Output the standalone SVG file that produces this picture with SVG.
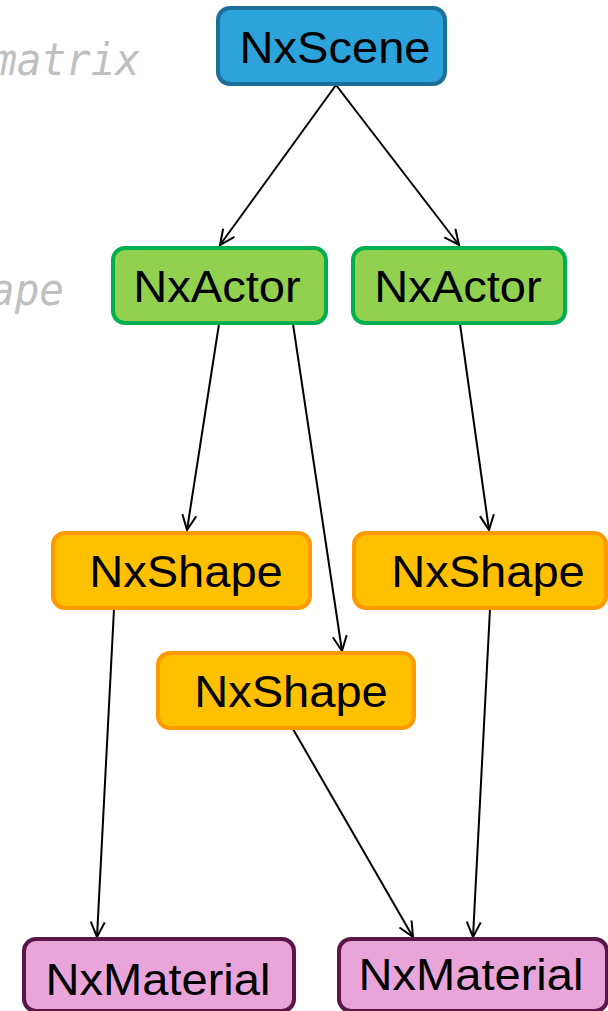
<svg xmlns="http://www.w3.org/2000/svg" width="608" height="1011" viewBox="0 0 608 1011">
  <style>
    .box { stroke-width: 4; }
    .scene { fill: #2CA3DA; stroke: #1C6F97; }
    .actor { fill: #92D050; stroke: #00B050; }
    .shape { fill: #FFC000; stroke: #FF9900; }
    .material { fill: #E9A5DA; stroke: #5A1648; }
    .label { font-family: "Liberation Sans", Arial, sans-serif; font-size: 44px; fill: #000; text-anchor: middle; }
    .code { font-family: "DejaVu Sans Mono", "Liberation Mono", monospace; font-style: italic; font-size: 44px; fill: #C0C0C0; text-anchor: end; }
    .edge { stroke: #000; stroke-width: 2; fill: none; marker-end: url(#arrow); }
  </style>
  <defs>
    <marker id="arrow" markerWidth="18" markerHeight="18" refX="16" refY="8" orient="auto" markerUnits="userSpaceOnUse">
      <path d="M1,1 L16,8 L1,15" fill="none" stroke="#000" stroke-width="2"/>
    </marker>
  </defs>

  <!-- background code fragments, slightly condensed monospace -->
  <text class="code" transform="translate(140,75) scale(0.93,1)">matrix</text>
  <text class="code" transform="translate(64,305) scale(0.93,1)">ape</text>

  <!-- connectors -->
  <g id="connectors">
    <line class="edge" x1="336" y1="85" x2="220" y2="245"/>
    <line class="edge" x1="336" y1="85" x2="459" y2="245"/>
    <line class="edge" x1="219" y1="324" x2="187" y2="530"/>
    <line class="edge" x1="293" y1="324" x2="342" y2="651"/>
    <line class="edge" x1="460" y1="324" x2="489" y2="530"/>
    <line class="edge" x1="114" y1="609" x2="97" y2="937"/>
    <line class="edge" x1="293" y1="729" x2="413" y2="937"/>
    <line class="edge" x1="490" y1="609" x2="473" y2="937"/>
  </g>

  <!-- labels are drawn slightly widened: scale(1.07,1) about their centre -->
  <g id="scene">
    <rect class="box scene" x="218" y="8" width="227" height="76" rx="12"/>
    <text class="label" transform="translate(335,63) scale(1.07,1)">NxScene</text>
  </g>
  <g id="actor1">
    <rect class="box actor" x="113" y="248" width="213" height="75" rx="12"/>
    <text class="label" transform="translate(217,302) scale(1.07,1)">NxActor</text>
  </g>
  <g id="actor2">
    <rect class="box actor" x="353" y="248" width="212" height="75" rx="12"/>
    <text class="label" transform="translate(458,302) scale(1.07,1)">NxActor</text>
  </g>
  <g id="shape1">
    <rect class="box shape" x="53" y="533" width="257" height="75" rx="12"/>
    <text class="label" transform="translate(186,587) scale(1.07,1)">NxShape</text>
  </g>
  <g id="shape2">
    <rect class="box shape" x="354" y="533" width="252" height="75" rx="12"/>
    <text class="label" transform="translate(488,587) scale(1.07,1)">NxShape</text>
  </g>
  <g id="shape3">
    <rect class="box shape" x="158" y="653" width="256" height="75" rx="12"/>
    <text class="label" transform="translate(291,707) scale(1.07,1)">NxShape</text>
  </g>
  <g id="material1">
    <rect class="box material" x="24" y="939" width="270" height="72" rx="12"/>
    <text class="label" transform="translate(158,995) scale(1.07,1)">NxMaterial</text>
  </g>
  <g id="material2">
    <rect class="box material" x="339" y="939" width="268" height="72" rx="12"/>
    <text class="label" transform="translate(471,990) scale(1.07,1)">NxMaterial</text>
  </g>
</svg>
